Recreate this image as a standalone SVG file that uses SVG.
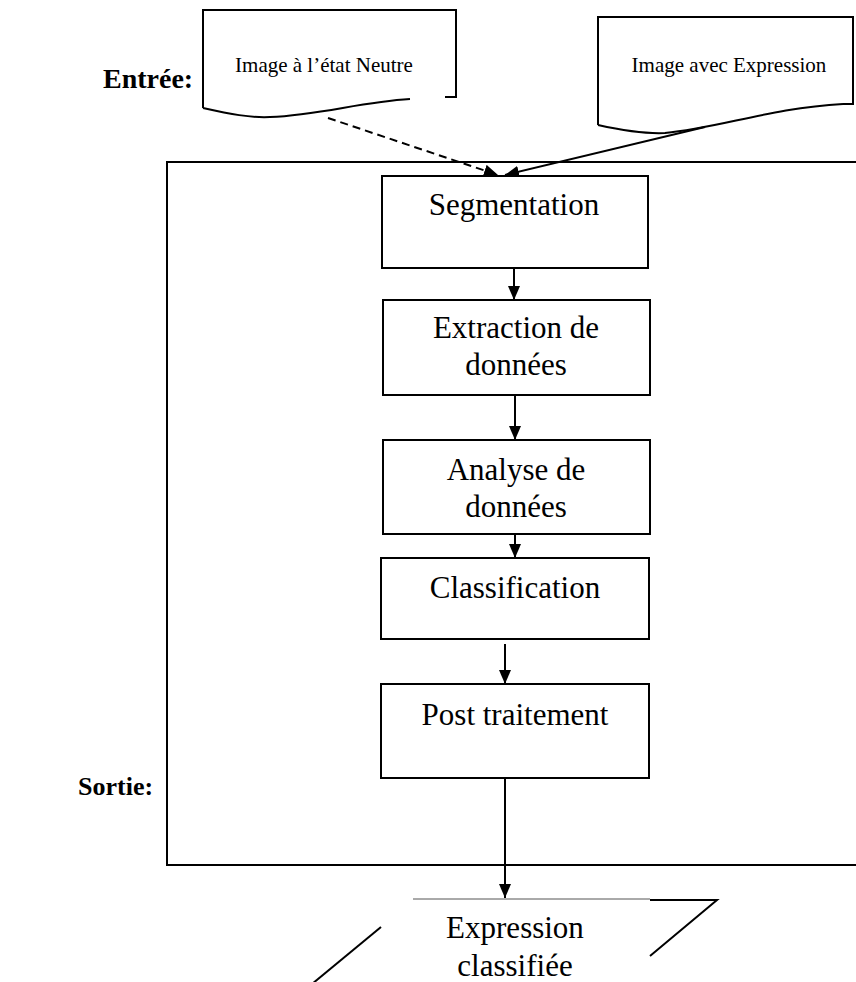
<svg xmlns="http://www.w3.org/2000/svg" width="856" height="982" viewBox="0 0 856 982">
<style>
.ln{fill:none;stroke:#000;stroke-width:2}
.bx{fill:#fff;stroke:#000;stroke-width:2}
.t{font-family:"Liberation Serif","Times New Roman",serif;fill:#000;text-anchor:middle}
.big{font-size:31px}
.sm{font-size:21px}
.lbl{font-family:"Liberation Serif","Times New Roman",serif;font-weight:bold;fill:#000}
</style>
<defs>
<marker id="ah" viewBox="0 0 14 12" refX="14" refY="6" markerWidth="14" markerHeight="12" markerUnits="userSpaceOnUse" orient="auto">
<path d="M0,0 L14,6 L0,12 Z" fill="#000"/>
</marker>
</defs>
<rect width="856" height="982" fill="#fff"/>
<text class="lbl" x="103" y="88" font-size="28">Entrée:</text>
<text class="lbl" x="78" y="795" font-size="26">Sortie:</text>
<g id="frame"><path class="ln" d="M857,162 H167 V865 H857"/></g>
<g id="doc-neutre">
<path class="ln" d="M203,108 V10 H456 V97 H445"/>
<path class="ln" d="M203,108 C230,114 250,118 270,117 C320,115 360,102 410,99"/>
<text class="t sm" x="324" y="72">Image à l’état Neutre</text>
</g>
<g id="doc-expression">
<path class="ln" d="M598,125 V17 H853 V104 H843"/>
<path class="ln" d="M598,125 C625,131 645,134 665,133 C720,128 770,108 843,104"/>
<text class="t sm" x="729" y="72">Image avec Expression</text>
</g>
<g id="connectors">
<line class="ln" x1="328" y1="118" x2="498" y2="175" stroke-dasharray="8,5" marker-end="url(#ah)"/>
<line class="ln" x1="705" y1="127" x2="505" y2="175" marker-end="url(#ah)"/>
<line class="ln" x1="514" y1="268" x2="514" y2="300" marker-end="url(#ah)"/>
<line class="ln" x1="515" y1="395" x2="515" y2="440" marker-end="url(#ah)"/>
<line class="ln" x1="515" y1="534" x2="515" y2="558" marker-end="url(#ah)"/>
<line class="ln" x1="505" y1="644" x2="505" y2="684" marker-end="url(#ah)"/>
<line class="ln" x1="505" y1="778" x2="505" y2="898" marker-end="url(#ah)"/>
</g>
<g id="segmentation">
<rect class="bx" x="382" y="176" width="266" height="92"/>
<text class="t big" x="514" y="215">Segmentation</text>
</g>
<g id="extraction">
<rect class="bx" x="383" y="300" width="267" height="95"/>
<text class="t big" x="516" y="338">Extraction de</text>
<text class="t big" x="516" y="375">données</text>
</g>
<g id="analyse">
<rect class="bx" x="383" y="440" width="267" height="94"/>
<text class="t big" x="516" y="480">Analyse de</text>
<text class="t big" x="516" y="517">données</text>
</g>
<g id="classification">
<rect class="bx" x="381" y="558" width="268" height="81"/>
<text class="t big" x="515" y="598">Classification</text>
</g>
<g id="post">
<rect class="bx" x="381" y="684" width="268" height="94"/>
<text class="t big" x="515" y="725">Post traitement</text>
</g>
<g id="output">
<line x1="413" y1="899" x2="650" y2="899" stroke="#555" stroke-width="1"/>
<path class="ln" d="M650,900 H717 L650,956"/>
<line class="ln" x1="381" y1="927" x2="312" y2="984"/>
<text class="t big" x="515" y="938">Expression</text>
<text class="t big" x="515" y="976">classifiée</text>
</g>
</svg>
